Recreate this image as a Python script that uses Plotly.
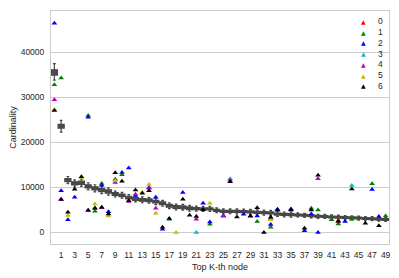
import plotly.graph_objects as go

# ---------------- data ----------------
positions = list(range(50))
tick_vals = list(range(1, 50, 2))
tick_text = [str(v) for v in tick_vals]
y_tick_vals = [0, 10000, 20000, 30000, 40000]
y_tick_text = [str(v) for v in y_tick_vals]

box_median = [35550, 23600, 11630, 10900, 11050, 10250, 9800, 9430, 9100, 8540,
              8250, 7750, 7450, 7250, 7150, 6850, 6480, 5950, 5650, 5600,
              5370, 5300, 5230, 5230, 4930, 4710, 4710, 4700, 4640, 4560,
              4490, 4420, 4340, 4100, 4000, 3950, 3900, 3800, 3700, 3600,
              3550, 3450, 3400, 3300, 3250, 3200, 3100, 3050, 2950, 2900]
box_q1 = [34970, 23200, 11280, 10550, 10700, 9900, 9450, 9080, 8750, 8240,
          7950, 7450, 7150, 6950, 6850, 6550, 6180, 5650, 5350, 5300,
          5070, 5070, 5000, 5000, 4700, 4480, 4480, 4470, 4410, 4330,
          4260, 4190, 4110, 3870, 3770, 3720, 3700, 3600, 3500, 3400,
          3350, 3250, 3200, 3100, 3050, 3000, 2900, 2850, 2750, 2700]
box_q3 = [36140, 24000, 11980, 11250, 11400, 10600, 10150, 9780, 9450, 8840,
          8550, 8050, 7750, 7550, 7450, 7150, 6780, 6250, 5950, 5900,
          5670, 5530, 5460, 5460, 5160, 4940, 4940, 4930, 4870, 4790,
          4720, 4650, 4570, 4330, 4230, 4180, 4100, 4000, 3900, 3800,
          3750, 3650, 3600, 3500, 3450, 3400, 3300, 3250, 3150, 3100]
box_low = [33860, 22300, 10830, 10100, 10250, 9450, 9000, 8630, 8300, 7890,
           7600, 7100, 6800, 6600, 6500, 6200, 5830, 5300, 5000, 4950,
           4720, 4750, 4680, 4680, 4380, 4160, 4160, 4150, 4090, 4010,
           3940, 3870, 3790, 3550, 3450, 3400, 3450, 3350, 3250, 3150,
           3100, 3000, 2950, 2850, 2800, 2750, 2650, 2600, 2500, 2450]
box_high = [37530, 24900, 12430, 11700, 11850, 11050, 10600, 10230, 9900, 9190,
            8900, 8400, 8100, 7900, 7800, 7500, 7130, 6600, 6300, 6250,
            6020, 5850, 5780, 5780, 5480, 5260, 5260, 5250, 5190, 5110,
            5040, 4970, 4890, 4650, 4550, 4500, 4350, 4250, 4150, 4050,
            4000, 3900, 3850, 3750, 3700, 3650, 3550, 3500, 3400, 3350]

s0_pos = [42]
s0_val = [2650]
s1_pos = [0, 1, 5, 6, 7, 9, 10, 17, 23, 30, 32, 33, 35, 38, 39, 41, 42, 44, 47, 49]
s1_val = [32800, 34300, 26000, 4700, 10900, 11850, 12850, 2950, 1800, 2430,
          1150, 5000, 5100, 5380, 5010, 2800, 1910, 2950, 10830, 3680]
s2_pos = [0, 1, 2, 3, 5, 7, 8, 10, 11, 12, 14, 15, 16, 19, 22, 23, 25, 28,
          30, 32, 33, 35, 37, 38, 39, 43, 47, 48]
s2_val = [46500, 9270, 2800, 7810, 25600, 10500, 4600, 13300, 14350, 8200,
          10000, 7800, 740, 8900, 6500, 2300, 3690, 4050, 3680, 1750,
          5150, 5230, 370, 4130, 0, 2440, 9570, 3540]
s3_pos = [21, 26, 44]
s3_val = [0, 11930, 10460]
s4_pos = [0, 1, 5, 6, 7, 9, 11, 12, 14, 15, 21, 25, 26, 29, 32, 39]
s4_val = [29500, 7250, 4860, 5300, 5500, 11120, 6900, 8470, 9800, 5380,
          2950, 3600, 11600, 3600, 3090, 11920]
s5_pos = [0, 2, 4, 6, 8, 9, 13, 14, 15, 18, 23, 32]
s5_val = [27300, 3750, 12100, 6340, 3650, 11500, 8910, 10680, 4280, 0, 6500, 2800]
s6_pos = [0, 1, 2, 3, 4, 5, 6, 7, 8, 9, 10, 11, 12, 13, 14, 16, 17, 19, 20,
          21, 22, 26, 27, 29, 30, 31, 32, 33, 35, 37, 38, 39, 42, 44, 46, 48]
s6_val = [27100, 7370, 4500, 9580, 12400, 4950, 5450, 5600, 4100, 13250,
          11400, 7050, 9430, 8690, 9270, 1180, 3090, 7400, 3800, 3540,
          5050, 11270, 3450, 3680, 5520, 0, 3380, 5000, 5000, 960,
          5010, 12740, 2440, 9650, 2070, 1480]

series_names = ["0", "1", "2", "3", "4", "5", "6"]
series_pos = [s0_pos, s1_pos, s2_pos, s3_pos, s4_pos, s5_pos, s6_pos]
series_val = [s0_val, s1_val, s2_val, s3_val, s4_val, s5_val, s6_val]
series_colors = ["#ff0000", "#008000", "#0000ff", "#00bfbf", "#bf00bf", "#bfbf00", "#000000"]

FONT = "Liberation Sans, Arial, sans-serif"
TXT = "#262626"
GRID = "#cccccc"

fig = go.Figure()

fig.add_trace(go.Box(
    x=positions, q1=box_q1, median=box_median, q3=box_q3,
    lowerfence=box_low, upperfence=box_high,
    width=0.9, whiskerwidth=0.45,
    fillcolor="#4f4f4f", line=dict(color="#474747", width=1.2),
    boxpoints=False, showlegend=False, hoverinfo="skip",
))

for name, xs, ys, col in zip(series_names, series_pos, series_val, series_colors):
    fig.add_trace(go.Scatter(
        x=xs, y=ys, mode="markers", name=name, showlegend=False,
        marker=dict(symbol="triangle-up", size=5, color=col, line=dict(width=0)),
    ))

# compact legend (drawn with annotations, matching the tight spacing)
leg_x_mark = 0.924
leg_x_text = 0.962
leg_y0 = 0.955
leg_step = 0.046
for i, (name, col) in enumerate(zip(series_names, series_colors)):
    yy = leg_y0 - i * leg_step
    fig.add_annotation(x=leg_x_mark, y=yy, xref="paper", yref="paper",
                       text="▲", showarrow=False, xanchor="center", yanchor="middle",
                       font=dict(size=6, color=col, family="DejaVu Sans"))
    fig.add_annotation(x=leg_x_text, y=yy, xref="paper", yref="paper",
                       text=name, showarrow=False, xanchor="left", yanchor="middle",
                       font=dict(size=8.5, color=TXT, family=FONT))

# page body has an 8px default margin, so the figure is sized/offset to compensate
fig.update_layout(
    width=391, height=270,
    margin=dict(l=37, r=10, t=2, b=34),
    paper_bgcolor="white", plot_bgcolor="white",
    font=dict(family=FONT, size=8.5, color=TXT),
    showlegend=False,
)
fig.update_xaxes(
    range=[-0.5, 49.5], tickmode="array", tickvals=tick_vals, ticktext=tick_text,
    showgrid=False, zeroline=False, showline=True, linecolor=GRID, linewidth=1, mirror=True,
    ticks="outside", ticklen=3, tickcolor="rgba(0,0,0,0)",
    tickfont=dict(size=8.5, color=TXT),
    title=dict(text="Top K-th node", font=dict(size=9, color=TXT), standoff=4),
)
fig.update_yaxes(
    range=[-2560, 49200], tickmode="array", tickvals=y_tick_vals, ticktext=y_tick_text,
    showgrid=True, gridcolor=GRID, gridwidth=1, zeroline=False,
    showline=True, linecolor=GRID, linewidth=1, mirror=True,
    ticks="outside", ticklen=4, tickcolor="rgba(0,0,0,0)",
    tickfont=dict(size=8.5, color=TXT),
    title=dict(text="Cardinality", font=dict(size=9, color=TXT), standoff=4),
)

fig.write_html("out.html")
